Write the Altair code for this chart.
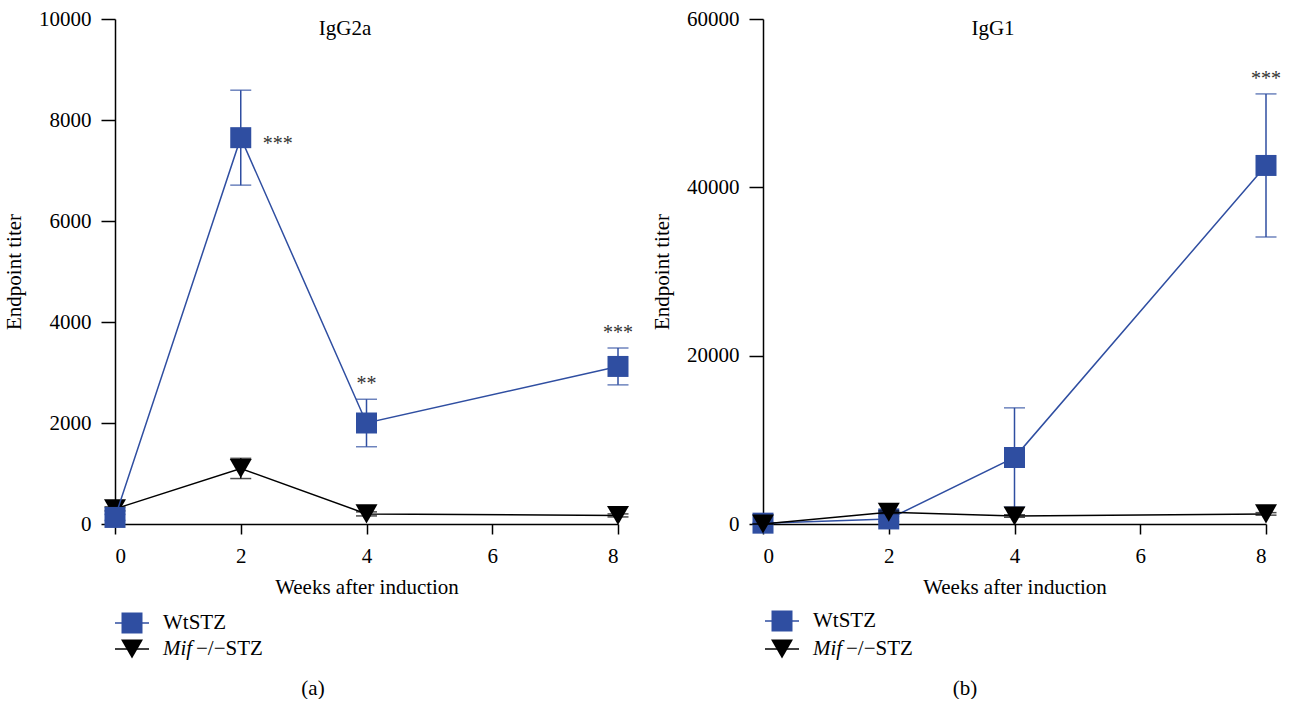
import altair as alt
import pandas as pd

FONT = "Liberation Serif"
BLUE = "#2F4EA1"
BLACK = "#000000"

weeks = [0, 2, 4, 8]

# IgG2a endpoint titers: mean and SEM per group
igg2a_wt_mean = [130, 7650, 2000, 3120]
igg2a_wt_sem = [60, 940, 470, 365]
igg2a_ko_mean = [300, 1100, 200, 170]
igg2a_ko_sem = [40, 200, 40, 30]

# IgG1 endpoint titers: mean and SEM per group
igg1_wt_mean = [100, 600, 7900, 42600]
igg1_wt_sem = [80, 300, 5900, 8500]
igg1_ko_mean = [0, 1400, 950, 1200]
igg1_ko_sem = [0, 150, 150, 150]

# significance marks for WtSTZ vs Mif-/-STZ
igg2a_side_week = [2]
igg2a_side_label = ["***"]
igg2a_top_week = [4, 8]
igg2a_top_label = ["**", "***"]
igg1_top_week = [8]
igg1_top_label = ["***"]

legend_labels = ["WtSTZ", "Mif", "\u2212/\u2212STZ"]

W, H = 503, 505
FS = 21

AXIS_TEXT = dict(
    labelFont=FONT, labelFontSize=FS, labelColor=BLACK,
    titleFont=FONT, titleFontSize=FS, titleColor=BLACK, titleFontWeight="normal",
    domainColor=BLACK, domainWidth=1.5, tickColor=BLACK, tickWidth=1.5, grid=False,
)


def frame(mean, sem):
    d = pd.DataFrame({"week": weeks, "mean": mean, "sem": sem})
    d["lo"] = (d["mean"] - d["sem"]).clip(lower=0)
    d["hi"] = d["mean"] + d["sem"]
    return d


def xenc():
    return alt.X(
        "week:Q",
        scale=alt.Scale(domain=[0, 8], nice=False, zero=False),
        axis=alt.Axis(values=[0, 2, 4, 6, 8], title="Weeks after induction",
                      tickSize=10, labelPadding=11, titlePadding=10, format="d",
                      **AXIS_TEXT),
    )


def yenc(field, ymax, step):
    return alt.Y(
        field,
        scale=alt.Scale(domain=[0, ymax], nice=False),
        axis=alt.Axis(values=list(range(0, ymax + 1, step)), title="Endpoint titer",
                      tickSize=14, labelPadding=10, titlePadding=14, format="d",
                      **AXIS_TEXT),
    )


def series(df, color, shape, size, ymax, step):
    base = alt.Chart(df)
    line = base.mark_line(color=color, strokeWidth=1.5).encode(
        x=xenc(), y=yenc("mean:Q", ymax, step))
    bar = base.mark_rule(color=color, strokeWidth=1.5).encode(
        x=xenc(), y=yenc("lo:Q", ymax, step), y2="hi:Q")
    caps = base.transform_fold(["lo", "hi"], as_=["end", "value"]).mark_tick(
        color=color, orient="horizontal", size=21, thickness=1.5
    ).encode(x=xenc(), y=yenc("value:Q", ymax, step))
    pts = base.mark_point(shape=shape, filled=True, size=size, color=color,
                          opacity=1, strokeWidth=0).encode(
        x=xenc(), y=yenc("mean:Q", ymax, step))
    return [line, bar, caps, pts]


def legend(y1, y2, x0):
    lab = pd.DataFrame({"label": legend_labels})
    one = alt.Chart(pd.DataFrame({"k": [0]}))
    layers = [
        one.mark_rule(color=BLUE, strokeWidth=1.5).encode(
            x=alt.value(x0), x2=alt.value(x0 + 34), y=alt.value(y1)),
        one.mark_point(shape="square", filled=True, size=441, color=BLUE, opacity=1,
                       strokeWidth=0).encode(x=alt.value(x0 + 17), y=alt.value(y1)),
        one.mark_rule(color=BLACK, strokeWidth=1.5).encode(
            x=alt.value(x0), x2=alt.value(x0 + 34), y=alt.value(y2)),
        one.mark_point(shape="triangle-down", filled=True, size=484, color=BLACK,
                       opacity=1, strokeWidth=0).encode(x=alt.value(x0 + 17), y=alt.value(y2)),
        alt.Chart(lab).transform_filter(alt.datum.label == legend_labels[0]).mark_text(
            font=FONT, fontSize=FS, align="left", baseline="middle", color=BLACK
        ).encode(x=alt.value(x0 + 48), y=alt.value(y1), text="label:N"),
        alt.Chart(lab).transform_filter(alt.datum.label == legend_labels[1]).mark_text(
            font=FONT, fontSize=FS, fontStyle="italic", align="left", baseline="middle",
            color=BLACK
        ).encode(x=alt.value(x0 + 48), y=alt.value(y2), text="label:N"),
        alt.Chart(lab).transform_filter(alt.datum.label == legend_labels[2]).mark_text(
            font=FONT, fontSize=FS, align="left", baseline="middle", color=BLACK
        ).encode(x=alt.value(x0 + 81), y=alt.value(y2), text="label:N"),
    ]
    return layers


def stars(weeks_, labels, values, ymax, step, dx, dy, align):
    d = pd.DataFrame({"week": weeks_, "label": labels, "v": values})
    return alt.Chart(d).mark_text(
        font=FONT, fontSize=20, color="#333333", align=align, baseline="middle",
        dx=dx, dy=dy
    ).encode(x=xenc(), y=yenc("v:Q", ymax, step), text="label:N")


def caption(text, x, y, size=FS):
    return alt.Chart(pd.DataFrame({"t": [text]})).mark_text(
        font=FONT, fontSize=size, align="center", baseline="middle", color=BLACK
    ).encode(x=alt.value(x), y=alt.value(y), text="t:N")


# panel (a): IgG2a
wt_a = frame(igg2a_wt_mean, igg2a_wt_sem)
ko_a = frame(igg2a_ko_mean, igg2a_ko_sem)
hi_a = dict(zip(weeks, wt_a["hi"]))
mean_a = dict(zip(weeks, wt_a["mean"]))
panel_a = alt.layer(
    *series(ko_a, BLACK, "triangle-down", 484, 10000, 2000),
    *series(wt_a, BLUE, "square", 441, 10000, 2000),
    stars(igg2a_side_week, igg2a_side_label, [mean_a[w] for w in igg2a_side_week],
          10000, 2000, 22, 6, "left"),
    stars(igg2a_top_week, igg2a_top_label, [hi_a[w] for w in igg2a_top_week],
          10000, 2000, 0, -15, "center"),
    caption("IgG2a", 230, 10),
    *legend(604, 630, 0),
    caption("(a)", 198, 670),
).properties(width=W, height=H)

# panel (b): IgG1
wt_b = frame(igg1_wt_mean, igg1_wt_sem)
ko_b = frame(igg1_ko_mean, igg1_ko_sem)
hi_b = dict(zip(weeks, wt_b["hi"]))
panel_b = alt.layer(
    *series(wt_b, BLUE, "square", 441, 60000, 20000),
    *series(ko_b, BLACK, "triangle-down", 484, 60000, 20000),
    stars(igg1_top_week, igg1_top_label, [hi_b[w] for w in igg1_top_week],
          60000, 20000, 0, -15, "center"),
    caption("IgG1", 230, 10),
    *legend(602, 630, 2),
    caption("(b)", 202, 670),
).properties(width=W, height=H)

chart = alt.hconcat(panel_a, panel_b, spacing=145, bounds="flush").properties(
    padding={"left": 3, "top": 8, "right": 0, "bottom": 0}
).configure_view(stroke=None).configure_axis(**AXIS_TEXT)

chart.save("out.html", embed_options={"renderer": "svg", "actions": False})
